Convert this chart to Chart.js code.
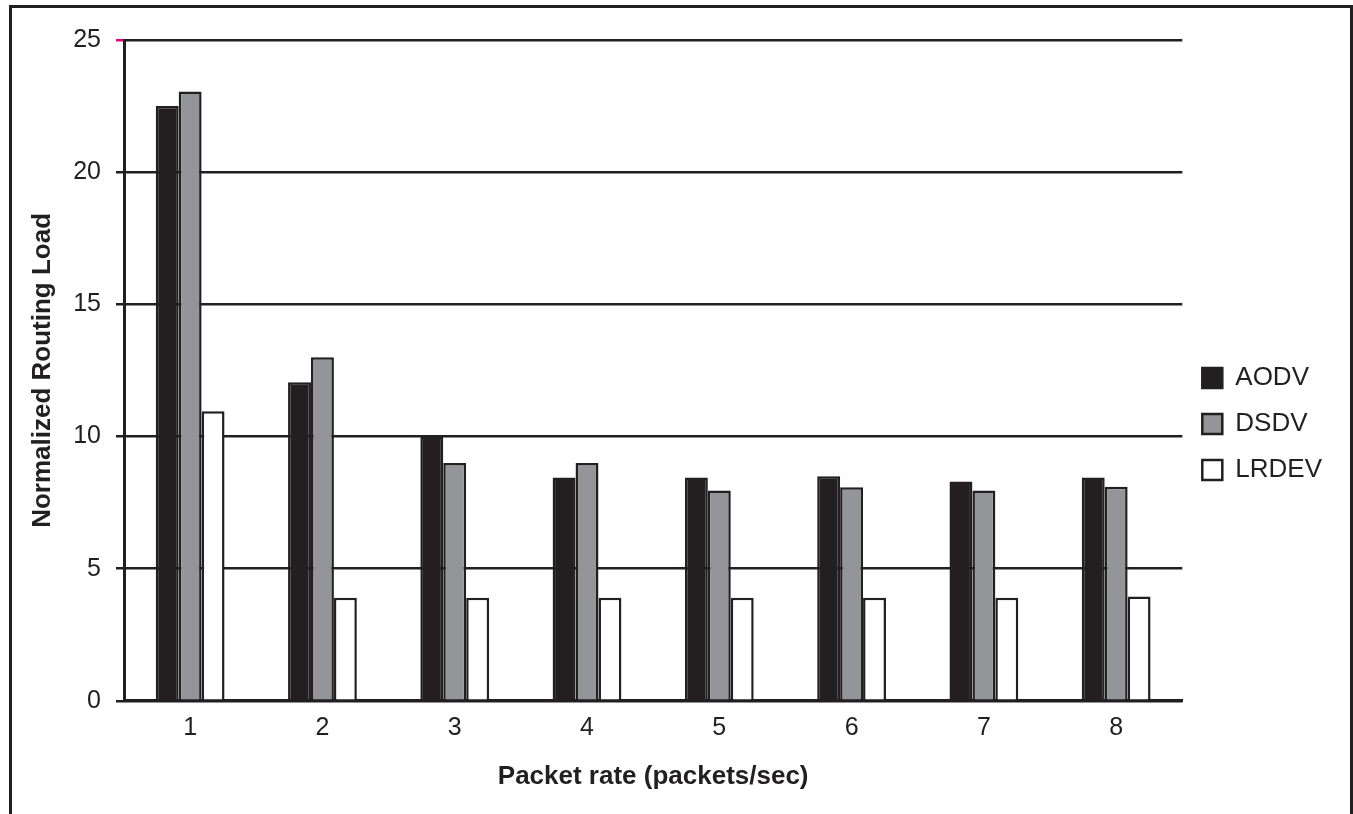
<!DOCTYPE html>
<html>
<head>
<meta charset="utf-8">
<script src="https://cdn.jsdelivr.net/npm/chart.js@4.4.1/dist/chart.umd.min.js"></script>
<style>
  body { margin: 0; background: #fff; overflow: hidden; }
  #wrap { position: relative; width: 1353px; height: 814px; }
  #frame {
    position: absolute; left: 9px; top: 5px; width: 1338px; height: 1000px;
    border: 3px solid #231f20; border-bottom: none;
  }
  canvas { position: absolute; left: 0; top: 0; }
</style>
</head>
<body>
<div id="wrap">
  <div id="frame"></div>
  <canvas id="chart" width="1353" height="814"></canvas>
</div>
<script>
const packetRates = ["1", "2", "3", "4", "5", "6", "7", "8"];
const aodv = [22.5, 12.05, 10.0, 8.45, 8.45, 8.5, 8.3, 8.45];
const dsdv = [23.05, 13.0, 9.0, 9.0, 7.96, 8.08, 7.96, 8.1];
const lrdev = [10.95, 3.9, 3.9, 3.9, 3.9, 3.9, 3.9, 3.95];
const yTicks = [0, 5, 10, 15, 20, 25];

const ink = "#231f20";
const font = "Arial, 'Liberation Sans', sans-serif";

const ctx = document.getElementById("chart").getContext("2d");
new Chart(ctx, {
    type: "bar",
    data: {
        labels: packetRates,
        datasets: [
            { label: "AODV", data: aodv, backgroundColor: ink, borderColor: ink, borderWidth: 2.5 },
            { label: "DSDV", data: dsdv, backgroundColor: "#939598", borderColor: ink, borderWidth: 2.5 },
            { label: "LRDEV", data: lrdev, backgroundColor: "#ffffff", borderColor: ink, borderWidth: 2.5 },
        ],
    },
    options: {
        responsive: false,
        animation: false,
        categoryPercentage: 0.52,
        barPercentage: 1.0,
        layout: { padding: { top: 40, bottom: 6, left: 10, right: 21 } },
        plugins: {
            tooltip: { enabled: false },
            legend: {
                position: "right",
                labels: {
                    boxWidth: 20,
                    boxHeight: 20,
                    padding: 20,
                    color: ink,
                    font: { family: font, size: 26 },
                },
            },
        },
        scales: {
            x: {
                grid: { display: false, drawTicks: false },
                border: { display: true, color: ink, width: 3 },
                ticks: { color: ink, padding: 12, font: { family: font, size: 25 } },
                title: {
                    display: true,
                    text: "Packet rate (packets/sec)",
                    color: ink,
                    font: { family: font, size: 26, weight: "bold" },
                    padding: { top: 6, bottom: 16 },
                },
            },
            y: {
                min: 0,
                max: 25,
                afterBuildTicks: axis => { axis.ticks = yTicks.map(v => ({ value: v })); },
                grid: {
                    color: ink,
                    lineWidth: 2.5,
                    tickLength: 8,
                    tickColor: c => (c.tick && c.tick.value === 25 ? "#e6007e" : ink),
                },
                border: { display: true, color: ink, width: 3 },
                ticks: { color: ink, padding: 15, font: { family: font, size: 25 } },
                title: {
                    display: true,
                    text: "Normalized Routing Load",
                    color: ink,
                    font: { family: font, size: 26, weight: "bold" },
                    padding: { top: 17, bottom: 0 },
                },
            },
        },
    },
});
</script>
</body>
</html>
